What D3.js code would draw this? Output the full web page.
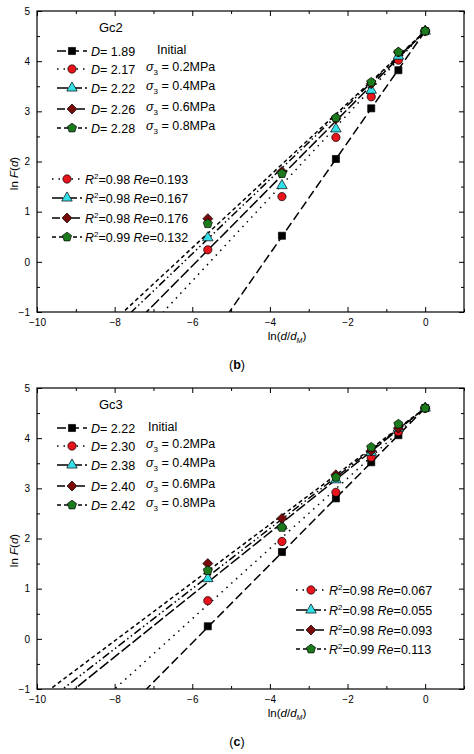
<!DOCTYPE html><html><head><meta charset="utf-8">
<script src="https://cdn.jsdelivr.net/npm/d3@7"></script>
<style>body{margin:0;background:#fff}text{font-family:Arial,"Liberation Sans",sans-serif}</style></head><body>
<svg id="c" width="474" height="754"></svg>
<script>
const xVals=[0,-0.69,-1.39,-2.30,-3.69,-5.60];
const seriesNames=["Initial","σ3 = 0.2MPa","σ3 = 0.4MPa","σ3 = 0.6MPa","σ3 = 0.8MPa"];
const gc2D=[1.89,2.17,2.22,2.26,2.28];
const gc2Y=[[4.6,3.82,3.06,2.05,0.52,null],[4.6,4.02,3.29,2.48,1.30,0.24],[4.6,4.10,3.42,2.65,1.52,0.48],[4.6,4.18,3.55,2.85,1.80,0.86],[4.6,4.18,3.58,2.87,1.76,0.76]];
const gc2R=[["0.98","0.193"],["0.98","0.167"],["0.98","0.176"],["0.99","0.132"]];
const gc3D=[2.22,2.30,2.38,2.40,2.42];
const gc3Y=[[4.6,4.06,3.52,2.80,1.73,0.25],[4.6,4.13,3.62,2.92,1.94,0.76],[4.6,4.20,3.72,3.17,2.25,1.20],[4.6,4.20,3.75,3.27,2.40,1.50],[4.6,4.28,3.82,3.22,2.22,1.36]];
const gc3R=[["0.98","0.067"],["0.98","0.055"],["0.98","0.093"],["0.99","0.113"]];
const intercept=4.6;
const xTicks=[-10,-8,-6,-4,-2,0];
const yTicks=[-1,0,1,2,3,4,5];
const colors=["#000","#e8141c","#33e0e8","#7a0a0a","#1b7a1b"];
const dashes=["9,4","1.5,5","11,3","8,3,1.5,3,1.5,3","4,3"];
const symbols=[d3.symbolSquare,d3.symbolCircle,d3.symbolTriangle,"diam","pent"];
const svg=d3.select("#c");
function marker(g,i,x,y){
  let pts=null;
  if(symbols[i]==="pent"){const r=4.8;pts=d3.range(5).map(k=>{const a=-Math.PI/2+k*2*Math.PI/5;return [x+r*Math.cos(a),y+r*Math.sin(a)]});}
  if(symbols[i]==="diam"){const r=5;pts=[[x,y-r],[x+r,y],[x,y+r],[x-r,y]];}
  if(pts){g.append("polygon").attr("points",pts.join(" ")).attr("fill",colors[i]).attr("stroke","#000").attr("stroke-width",0.7);return;}
  const sz=[50,54,48][i];
  g.append("path").attr("d",d3.symbol().type(symbols[i]).size(sz)()).attr("transform",`translate(${x},${y})`)
     .attr("fill",colors[i]).attr("stroke","#000").attr("stroke-width",0.7);
}
function panel(oy,title,Ds,Ys,Rs,rLeg,cap){
  const g=svg.append("g").attr("transform",`translate(0,${oy})`);
  const x=d3.scaleLinear().domain([-10,1]).range([37,464]);
  const y=d3.scaleLinear().domain([-1,5]).range([312,11]);
  const cid="clip"+oy;
  g.append("clipPath").attr("id",cid).append("rect").attr("x",37).attr("y",11).attr("width",427).attr("height",301);
  g.append("g").attr("transform","translate(0,312)").call(d3.axisBottom(x).tickValues(xTicks).tickSize(-5).tickPadding(7).tickFormat(d3.format("d")));
  g.append("g").attr("transform","translate(0,11)").call(d3.axisTop(x).tickValues(d3.range(-9,2,2)).tickSize(-3).tickFormat(""));
  g.append("g").attr("transform","translate(0,312)").call(d3.axisBottom(x).tickValues(d3.range(-9,2,2)).tickSize(-3).tickFormat(""));
  g.append("g").attr("transform","translate(0,11)").call(d3.axisTop(x).tickValues(xTicks).tickSize(-5).tickFormat(""));
  g.append("g").attr("transform","translate(37,0)").call(d3.axisLeft(y).tickValues(yTicks).tickSize(-5).tickPadding(7).tickFormat(d3.format("d")));
  g.append("g").attr("transform","translate(37,0)").call(d3.axisLeft(y).tickValues(d3.range(-0.5,5,1)).tickSize(-3).tickFormat(""));
  g.append("g").attr("transform","translate(464,0)").call(d3.axisRight(y).tickValues(yTicks).tickSize(-5).tickFormat(""));
  g.append("g").attr("transform","translate(464,0)").call(d3.axisRight(y).tickValues(d3.range(-0.5,5,1)).tickSize(-3).tickFormat(""));
  g.selectAll(".domain").remove();
  g.selectAll(".tick text").attr("font-size",10).attr("font-family","Arial");
  g.append("rect").attr("x",37).attr("y",11).attr("width",427).attr("height",301).attr("fill","none").attr("stroke","#000").attr("stroke-width",1.2);
  Ds.forEach((D,i)=>{const s=3-D;const x0=(-1-intercept)/s;
    g.append("line").attr("clip-path",`url(#${cid})`).attr("x1",x(0)).attr("y1",y(intercept)).attr("x2",x(x0)).attr("y2",y(-1))
     .attr("stroke","#000").attr("stroke-width",1.5).attr("stroke-dasharray",dashes[i]);});
  Ys.forEach((ys,i)=>ys.forEach((v,k)=>{if(v!=null)marker(g,i,x(xVals[k]),y(v));}));
  g.append("text").attr("x",99).attr("y",32).attr("font-size",13).text(title);
  const rows=[51,69,88,109,128];
  Ds.forEach((D,i)=>{const yy=rows[i];
    g.append("line").attr("x1",57).attr("x2",87).attr("y1",yy).attr("y2",yy).attr("stroke","#000").attr("stroke-width",1.5).attr("stroke-dasharray",dashes[i]);
    marker(g,i,72,yy);
    const t=g.append("text").attr("x",91).attr("y",yy+5).attr("font-size",12.5);
    t.append("tspan").attr("font-style","italic").text("D");t.append("tspan").text("= "+D.toFixed(2));
    const t2=g.append("text").attr("x",i===0?(title==="Gc2"?157:148):146).attr("y",yy+(i===0?3:2)).attr("font-size",12.5);
    if(i===0)t2.text("Initial");else{t2.append("tspan").attr("font-style","italic").text("σ");t2.append("tspan").attr("font-size",8).attr("dy",4).text("3");t2.append("tspan").attr("dy",-4).text(" = "+seriesNames[i].split("= ")[1]);}
  });
  Rs.forEach((r,j)=>{const i=j+1,yy=rLeg.rows[j];
    g.append("line").attr("x1",rLeg.x).attr("x2",rLeg.x+30).attr("y1",yy).attr("y2",yy).attr("stroke","#000").attr("stroke-width",1.5).attr("stroke-dasharray",dashes[i]);
    marker(g,i,rLeg.x+15,yy);
    const t=g.append("text").attr("x",rLeg.x+33).attr("y",yy+5).attr("font-size",12.5);
    t.append("tspan").attr("font-style","italic").text("R");t.append("tspan").attr("font-size",8).attr("dy",-5).text("2");
    t.append("tspan").attr("dy",5).text("=0"+r[0].slice(1)+" ");t.append("tspan").attr("font-style","italic").text("Re");t.append("tspan").text("="+r[1]);
  });
  const xl=g.append("text").attr("x",287).attr("y",340).attr("text-anchor","middle").attr("font-size",11.5);
  xl.append("tspan").text("ln(");xl.append("tspan").attr("font-style","italic").text("d");xl.append("tspan").text("/");
  xl.append("tspan").attr("font-style","italic").text("d");xl.append("tspan").attr("font-size",7).attr("dy",3).attr("font-style","italic").text("M");xl.append("tspan").attr("dy",-3).text(")");
  const yl=g.append("text").attr("transform",`translate(18,${y(2)+12}) rotate(-90)`).attr("text-anchor","middle").attr("font-size",11.5);
  yl.append("tspan").text("ln ");yl.append("tspan").attr("font-style","italic").text("F");yl.append("tspan").text("(");yl.append("tspan").attr("font-style","italic").text("d");yl.append("tspan").text(")");
  const c=g.append("text").attr("x",237).attr("y",369).attr("text-anchor","middle").attr("font-family","Liberation Serif,serif").attr("font-size",12.5);
  c.append("tspan").text("(");c.append("tspan").attr("font-weight","bold").text(cap);c.append("tspan").text(")");
}
panel(0,"Gc2",gc2D,gc2Y,gc2R,{x:52,rows:[179,198,218,237]},"b");
panel(377,"Gc3",gc3D,gc3Y,gc3R,{x:296,rows:[213,233,253,272]},"c");
</script></body></html>
